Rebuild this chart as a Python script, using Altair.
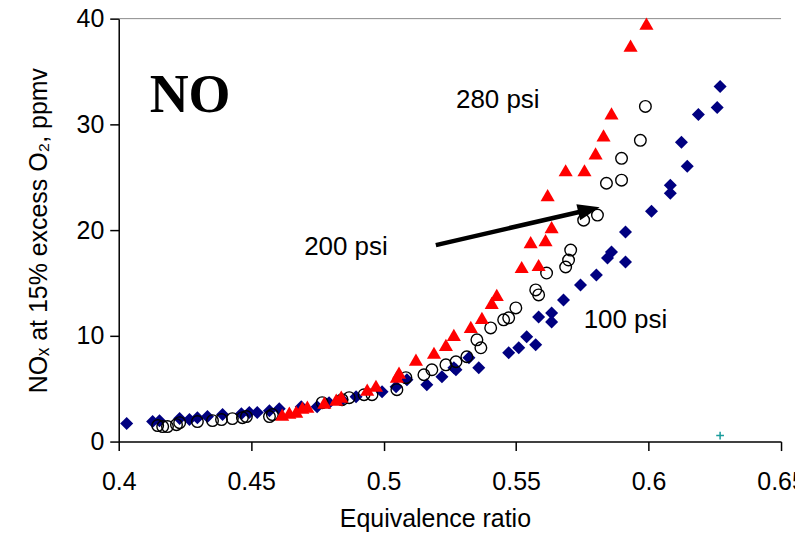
import altair as alt
import pandas as pd

# ---- data ----
# 100 psi : filled navy diamonds
phi_100 = [0.4030, 0.4128, 0.4154, 0.4230, 0.4267, 0.4297, 0.4335, 0.4392, 0.4463, 0.4493,
           0.4523, 0.4569, 0.4606, 0.4689, 0.4749, 0.4794, 0.4843, 0.4896, 0.4994, 0.5047,
           0.5088, 0.5163, 0.5220, 0.5265, 0.5273, 0.5322, 0.5359, 0.5472, 0.5510, 0.5540,
           0.5574, 0.5585, 0.5634, 0.5634, 0.5679, 0.5743, 0.5803, 0.5845, 0.5860, 0.5913,
           0.5913, 0.6011, 0.6082, 0.6082, 0.6124, 0.6146, 0.6188, 0.6259, 0.6270]
nox_100 = [1.70, 1.89, 1.98, 2.17, 2.08, 2.26, 2.36, 2.55, 2.64, 2.74,
           2.74, 2.92, 3.11, 3.30, 3.30, 3.68, 3.96, 4.25, 4.72, 5.19,
           5.85, 5.38, 6.13, 6.98, 6.79, 7.92, 6.98, 8.40, 8.87, 9.91,
           9.15, 11.79, 12.17, 11.32, 13.40, 14.81, 15.75, 17.36, 17.92, 16.98,
           19.81, 21.79, 24.25, 23.49, 28.30, 26.04, 30.94, 31.60, 33.58]

# 200 psi : open black circles
phi_200 = [0.4147, 0.4166, 0.4184, 0.4218, 0.4230, 0.4297, 0.4354, 0.4388, 0.4429, 0.4467,
           0.4482, 0.4569, 0.4580, 0.4768, 0.4843, 0.4870, 0.4926, 0.4956, 0.5050, 0.5084,
           0.5152, 0.5182, 0.5235, 0.5273, 0.5314, 0.5352, 0.5367, 0.5404, 0.5453, 0.5472,
           0.5499, 0.5574, 0.5585, 0.5615, 0.5687, 0.5698, 0.5706, 0.5755, 0.5807, 0.5841,
           0.5898, 0.5898, 0.5969, 0.5988]
nox_200 = [1.51, 1.42, 1.42, 1.60, 1.79, 1.89, 1.98, 2.08, 2.17, 2.26,
           2.36, 2.36, 2.55, 3.68, 3.96, 4.15, 4.43, 4.43, 4.91, 6.04,
           6.32, 6.79, 7.26, 7.55, 8.02, 9.62, 8.87, 10.75, 11.51, 11.70,
           12.64, 14.34, 13.87, 15.94, 16.51, 17.17, 18.11, 20.94, 21.42, 24.43,
           24.72, 26.79, 28.49, 31.70]

# 280 psi : filled red triangles
phi_280 = [0.4617, 0.4644, 0.4670, 0.4693, 0.4712, 0.4776, 0.4821, 0.4840, 0.4938, 0.4971,
           0.5050, 0.5058, 0.5122, 0.5190, 0.5235, 0.5265, 0.5329, 0.5371, 0.5408, 0.5427,
           0.5521, 0.5585, 0.5555, 0.5611, 0.5619, 0.5634, 0.5687, 0.5758, 0.5800, 0.5830,
           0.5860, 0.5932, 0.5992]
nox_280 = [2.55, 2.74, 2.83, 3.21, 3.30, 3.68, 3.96, 4.25, 4.91, 5.28,
           6.13, 6.51, 7.74, 8.40, 9.15, 10.09, 10.85, 11.70, 13.11, 13.87,
           16.51, 16.70, 18.87, 19.06, 23.30, 20.28, 25.66, 25.66, 27.26, 28.96,
           31.04, 37.45, 39.53]

# stray teal marker near the axis
phi_extra = [0.627]
nox_extra = [0.57]

x_ticks = [0.4, 0.45, 0.5, 0.55, 0.6, 0.65]
y_ticks = [0, 10, 20, 30, 40]

label_texts = ["280 psi", "200 psi", "100 psi"]
label_x = [0.5273, 0.4700, 0.5755]
label_y = [31.51, 17.64, 10.75]

title_text = ["NO"]
title_x = [0.4117]
title_y = [31.13]

# arrow (from 200 psi label toward higher pressure)
arrow_x = [0.5197]
arrow_y = [18.58]
arrow_x2 = [0.5775]
arrow_y2 = [21.93]

# ---- chart ----
FONT = "Liberation Sans"
xscale = alt.Scale(domain=[0.4, 0.65], nice=False, zero=False)
yscale = alt.Scale(domain=[0, 40], nice=False, zero=True)

xaxis = alt.Axis(values=x_ticks, format=".2~f", title="Equivalence ratio", grid=False,
                 domainColor="black", domainWidth=1.5, tickColor="black", tickWidth=1.5,
                 tickSize=9, labelFontSize=25, titleFontSize=25, labelColor="black",
                 titleColor="black", labelFont=FONT, titleFont=FONT, titleFontWeight="normal",
                 labelPadding=19, titlePadding=12, titleX=317, titleAlign="center",
                 labelFlush=False, labelOverlap=False)
yaxis = alt.Axis(values=y_ticks, title="NOₓ at 15% excess O₂, ppmv", grid=False,
                 domainColor="black", domainWidth=1.5, tickColor="black", tickWidth=1.5,
                 tickSize=9, labelFontSize=25, titleFontSize=25, labelColor="black",
                 titleColor="black", labelFont=FONT, titleFont=FONT, titleFontWeight="normal",
                 labelPadding=6, titlePadding=25, labelFlush=False, labelOverlap=False)

X = alt.X("x:Q", scale=xscale, axis=xaxis)
Y = alt.Y("y:Q", scale=yscale, axis=yaxis)

d100 = pd.DataFrame({"x": phi_100, "y": nox_100})
d200 = pd.DataFrame({"x": phi_200, "y": nox_200})
d280 = pd.DataFrame({"x": phi_280, "y": nox_280})
dext = pd.DataFrame({"x": phi_extra, "y": nox_extra})
dlab = pd.DataFrame({"x": label_x, "y": label_y, "t": label_texts})
dtitle = pd.DataFrame({"x": title_x, "y": title_y, "t": title_text})
darrow = pd.DataFrame({"x": arrow_x, "y": arrow_y, "x2": arrow_x2, "y2": arrow_y2})
dtop = pd.DataFrame({"y": [y_ticks[-1]]})

top_line = alt.Chart(dtop).mark_rule(color="#8c8c8c", strokeWidth=1).encode(y=Y)

diamonds = alt.Chart(d100).mark_point(shape="diamond", filled=True, size=170,
                                      color="#000080", opacity=1).encode(x=X, y=Y)
circles = alt.Chart(d200).mark_point(shape="circle", filled=False, size=135,
                                     color="black", strokeWidth=1.4, opacity=1).encode(x=X, y=Y)
triangles = alt.Chart(d280).mark_point(shape="triangle-up", filled=True, size=200,
                                       color="#ff0000", opacity=1).encode(x=X, y=Y)
extra = alt.Chart(dext).mark_point(shape="M-1,0L1,0M0,-1L0,1", filled=False, size=60,
                                   color="#1a9c9c", strokeWidth=1.5, opacity=1).encode(x=X, y=Y)

arrow_line = alt.Chart(darrow).mark_rule(color="black", strokeWidth=4.5).encode(
    x=X, y=Y, x2="x2:Q", y2="y2:Q")
arrow_head = alt.Chart(darrow).mark_point(shape="M-1,-0.75L1,0L-1,0.75Z", filled=True,
                                          size=484, angle=347, color="black",
                                          opacity=1).encode(
    x=alt.X("x2:Q", scale=xscale, axis=xaxis), y=alt.Y("y2:Q", scale=yscale, axis=yaxis))

labels = alt.Chart(dlab).mark_text(align="left", baseline="alphabetic", font=FONT,
                                   fontSize=26, color="black").encode(x=X, y=Y, text="t:N")
big_title = alt.Chart(dtitle).mark_text(align="left", baseline="alphabetic",
                                        font="Liberation Serif", fontWeight="bold",
                                        fontSize=54, color="black").encode(x=X, y=Y, text="t:N")

chart = alt.layer(top_line, diamonds, circles, triangles, extra, arrow_line, arrow_head,
                  labels, big_title).properties(
    width=664, height=424,
    autosize=alt.AutoSizeParams(type="none"),
    padding={"left": 111, "top": 10, "right": 14, "bottom": 90},
    background="white",
).configure_view(stroke=None)

chart.save("out.html", embed_options={"renderer": "svg", "actions": False})
